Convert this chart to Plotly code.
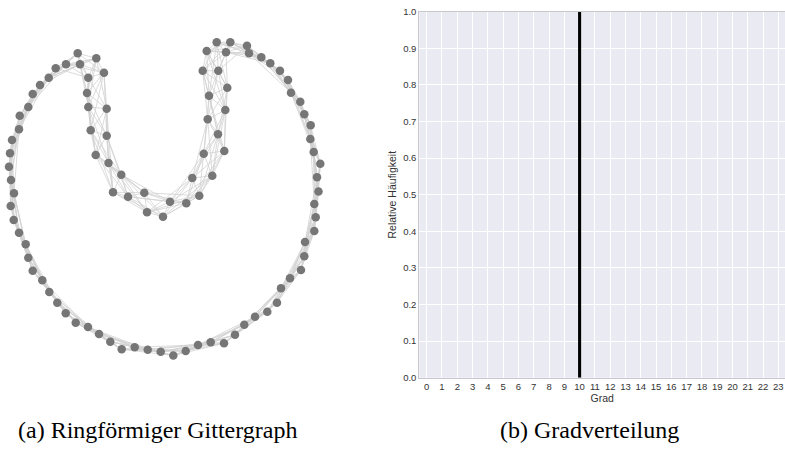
import plotly.graph_objects as go

# ---------------- Data ----------------
# Node positions of the ring lattice graph (ring order)
node_x = [66, 55.7, 48.7, 40, 32.7, 28.3, 19.7, 19, 12, 10, 9, 11, 14, 10.7, 13.7, 19, 25.7, 28.3, 32.7, 42.3,
          49.3, 57.3, 65.7, 75.7, 88, 99, 110.3, 121.7, 134.7, 147.7, 160.7, 173.3, 185.7, 198, 210.7, 224, 235,
          244.3, 255, 267.3, 277, 281, 290, 301, 304.3, 305, 314.3, 315.7, 314.3, 318.5, 317, 320.3, 313.7, 310.3,
          310.7, 304.3, 300.3, 291, 288, 280, 270.3, 261.3, 249, 247, 230.3, 226, 216.7, 206.7, 218.3, 202.7,
          227.3, 209, 225.3, 207.7, 218, 224.3, 203.7, 212.3, 192.3, 199.3, 186.3, 170, 163, 147, 144.3, 128,
          121.3, 113, 108.5, 95.7, 106.7, 90.7, 106.7, 88.3, 87, 104, 88.3, 96.3, 80, 77.7]
node_y = [64.3, 68.3, 77.7, 85, 94, 107, 115.7, 129.3, 140, 153.3, 166.7, 180, 193.3, 206, 220, 232.7, 244.3,
          257.7, 270.7, 280.3, 292, 302.7, 313.3, 322.7, 327, 334, 341.7, 349.3, 347.3, 349.7, 351.7, 355.5, 351,
          345, 342.3, 343.3, 334.7, 324.7, 316.7, 311.7, 302.7, 288.3, 278.3, 270, 256.3, 242, 231, 217.3, 204,
          191.5, 177.3, 163.7, 152, 139, 125.3, 114.3, 101.7, 92.7, 80, 70.7, 63.3, 57.3, 53.3, 45.7, 42.3, 52.3,
          42.3, 51, 70.7, 70.7, 87.7, 95.7, 110, 119.3, 134.3, 151, 153.7, 175.7, 178, 195.7, 203.3, 201.7, 216.7,
          212.3, 192.7, 196.7, 174.7, 192.3, 163, 155, 135.7, 130.3, 108.7, 107, 93, 72.7, 77.7, 58.3, 64.3, 53.3]
k_neighbors = 10  # each node linked to the 10 nearest nodes on the ring

# Degree distribution
degree_ticks = list(range(0, 24))
degree_values = [10]
rel_freq = [1.0]
y_ticks = [round(0.1 * i, 1) for i in range(11)]

# ---------------- Figure ----------------
W, H = 785, 458
n = len(node_x)
ex, ey = [], []
for i in range(n):
    for j in range(1, k_neighbors // 2 + 1):
        t = (i + j) % n
        ex += [node_x[i], node_x[t], None]
        ey += [node_y[i], node_y[t], None]

fig = go.Figure()
fig.add_trace(go.Scatter(x=ex, y=ey, mode="lines", line=dict(color="#d2d2d2", width=0.8),
                         hoverinfo="skip", showlegend=False, xaxis="x", yaxis="y"))
fig.add_trace(go.Scatter(x=node_x, y=node_y, mode="markers",
                         marker=dict(color="#767676", size=8.5, line=dict(width=0)),
                         showlegend=False, xaxis="x", yaxis="y"))

fig.add_trace(go.Bar(x=degree_values, y=rel_freq, width=0.2, marker=dict(color="black", line=dict(width=0)),
                     showlegend=False, xaxis="x2", yaxis="y2"))

tick_font = dict(family="Liberation Sans, Arial, sans-serif", size=9.5, color="#333333")
title_font = dict(family="Liberation Sans, Arial, sans-serif", size=10.5, color="#333333")

x0_px, zero_px, unit_px = 419.3, 426.7, 15.29
y_top_px, y_bot_px = 11.7, 377.7

fig.update_layout(
    template="none",
    width=W, height=H,
    margin=dict(l=0, r=0, t=0, b=0, pad=0, autoexpand=False),
    paper_bgcolor="white",
    plot_bgcolor="white",
    xaxis=dict(domain=[0, 340 / W], range=[0, 340], visible=False, automargin=False),
    yaxis=dict(domain=[0, 1], range=[H, 0], visible=False, automargin=False),
    xaxis2=dict(domain=[x0_px / W, 1.0],
                range=[(x0_px - zero_px) / unit_px, (W - zero_px) / unit_px],
                tickmode="array", tickvals=degree_ticks, ticktext=[str(v) for v in degree_ticks],
                showgrid=True, gridcolor="white", gridwidth=1, zeroline=False,
                showline=True, linecolor="#c8c8cc", linewidth=1, mirror=True,
                ticks="", tickfont=tick_font, anchor="y2", automargin=False,
                title=dict(text="Grad", font=title_font, standoff=3)),
    yaxis2=dict(domain=[1 - y_bot_px / H, 1 - y_top_px / H], range=[0, 1.0],
                tickmode="array", tickvals=y_ticks, ticktext=[f"{v:.1f}" for v in y_ticks],
                showgrid=True, gridcolor="white", gridwidth=1, zeroline=False,
                showline=True, linecolor="#c8c8cc", linewidth=1, mirror=True,
                ticks="", tickfont=tick_font, anchor="x2", automargin=False,
                title=dict(text="Relative Häufigkeit", font=title_font, standoff=4)),
    annotations=[
        dict(text="(a) Ringförmiger Gittergraph", xref="paper", yref="paper", x=16 / W, y=1 - 430 / H,
             xanchor="left", yanchor="middle", showarrow=False,
             font=dict(family="Liberation Serif, Times New Roman, serif", size=24, color="black")),
        dict(text="(b) Gradverteilung", xref="paper", yref="paper", x=498 / W, y=1 - 430 / H,
             xanchor="left", yanchor="middle", showarrow=False,
             font=dict(family="Liberation Serif, Times New Roman, serif", size=24, color="black")),
    ],
)
# background of the histogram plot area
fig.add_shape(type="rect", xref="x2 domain", yref="y2 domain", x0=0, x1=1, y0=0, y1=1,
              fillcolor="#eaeaf2", line=dict(width=0), layer="below")

fig.write_html("out.html", config={"displayModeBar": False},
               post_script="document.body.style.margin='0';document.body.style.overflow='hidden';")
